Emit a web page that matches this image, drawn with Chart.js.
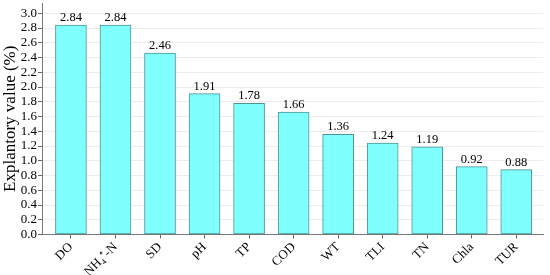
<!DOCTYPE html>
<html><head><meta charset="utf-8">
<script src="https://cdn.jsdelivr.net/npm/chart.js@4"></script>
<style>html,body{margin:0;padding:0;background:#fff}#w{width:550px;height:275px}</style>
</head><body><div id="w"><canvas id="c"></canvas></div>
<script>
const categories = ["DO","NH\u2084\u207A-N","SD","pH","TP","COD","WT","TLI","TN","Chla","TUR"];
const values = [2.84,2.84,2.46,1.91,1.78,1.66,1.36,1.24,1.19,0.92,0.88];
const yTicks = [0,0.2,0.4,0.6,0.8,1.0,1.2,1.4,1.6,1.8,2.0,2.2,2.4,2.6,2.8,3.0];
const FONT = "'Liberation Serif','Times New Roman',serif";

const labelPlugin = {
  id:'vlabels',
  afterDatasetsDraw(chart){
    const ctx = chart.ctx;
    const meta = chart.getDatasetMeta(0);
    ctx.save();
    ctx.font = "12.5px " + FONT;
    ctx.fillStyle = '#000';
    ctx.textAlign = 'center';
    ctx.textBaseline = 'bottom';
    meta.data.forEach((bar,i)=>{
      ctx.fillText(values[i].toFixed(2), bar.x, bar.y - 1);
    });
    ctx.restore();
  }
};

new Chart(document.getElementById('c'), {
  type:'bar',
  data:{
    datasets:[{
      data: values.map((v,i)=>({x:i,y:v})),
      backgroundColor:'#80FFFF',
      borderColor:'#4E9494',
      borderWidth:1,
      borderSkipped:false,
      barThickness:31
    }]
  },
  plugins:[labelPlugin],
  options:{
    responsive:true, maintainAspectRatio:false, animation:false,
    layout:{padding:{top:3,right:7,left:0,bottom:0}},
    plugins:{legend:{display:false},tooltip:{enabled:false}},
    scales:{
      x:{
        type:'linear', min:-0.65, max:10.6, offset:false,
        afterBuildTicks(s){ s.ticks = categories.map((_,i)=>({value:i})); },
        afterFit(s){ s.height = 40.5; s.paddingLeft = 0; s.paddingRight = 0; },
        grid:{drawOnChartArea:false, offset:false, tickLength:4, tickColor:'#666'},
        border:{color:'#777'},
        ticks:{
          autoSkip:false, maxRotation:45, minRotation:45, padding:1,
          color:'#000', font:{family:FONT,size:13},
          callback:(v)=>categories[v] ?? ''
        }
      },
      y:{
        min:0, max:3.14,
        afterBuildTicks(s){ s.ticks = yTicks.map(v=>({value:v})); },
        afterFit(s){ s.width = 42; s.paddingTop = 0; s.paddingBottom = 0; },
        grid:{color:'#ececec', tickLength:4, tickColor:'#666'},
        border:{color:'#777'},
        ticks:{
          autoSkip:false, padding:1, color:'#000', font:{family:FONT,size:13},
          callback:(v)=>Number(v).toFixed(1)
        },
        title:{display:true, text:'Explantory value (%)', color:'#000',
               font:{family:FONT,size:17}, padding:{top:0,bottom:0}}
      }
    }
  }
});
</script></body></html>
